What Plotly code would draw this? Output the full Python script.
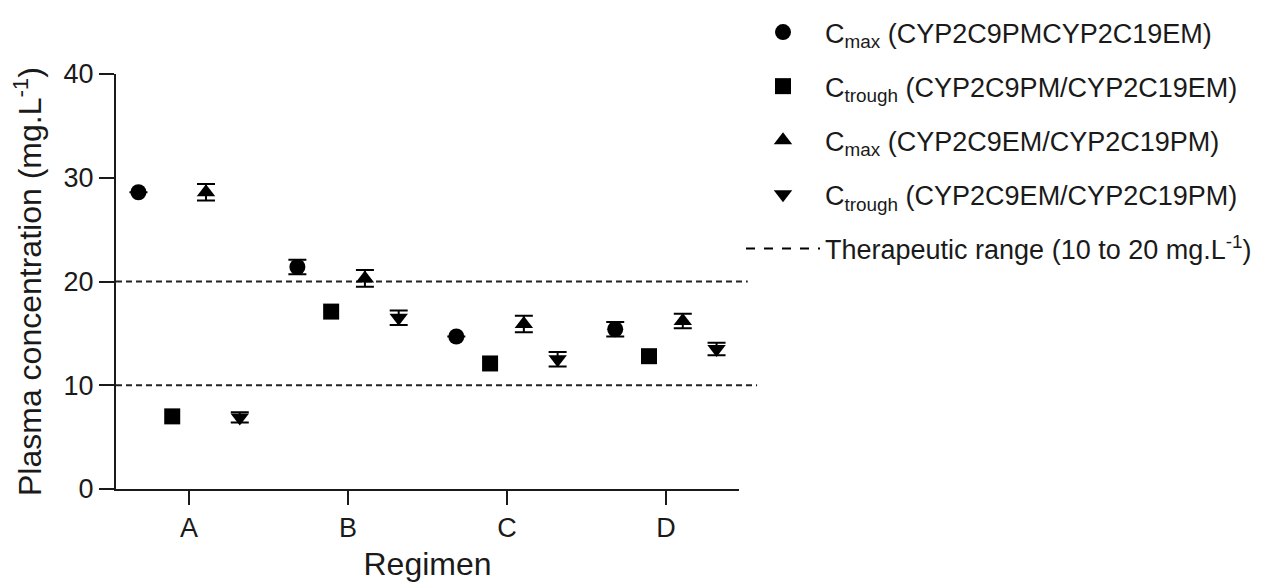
import plotly.graph_objects as go

regimens = ["A", "B", "C", "D"]

cmax_pm_em = [28.6, 21.4, 14.7, 15.4]
cmax_pm_em_err = [None, 0.7, None, 0.7]
ctrough_pm_em = [7.0, 17.1, 12.1, 12.8]
ctrough_pm_em_err = [None, None, None, None]
cmax_em_pm = [28.6, 20.3, 15.9, 16.2]
cmax_em_pm_err = [0.8, 0.8, 0.8, 0.7]
ctrough_em_pm = [6.9, 16.5, 12.5, 13.5]
ctrough_em_pm_err = [0.5, 0.7, 0.7, 0.6]

therapeutic_low = 10
therapeutic_high = 20

FONT = "Liberation Sans, Arial, sans-serif"
FS = 27
# page body has an 8px default margin, so the figure is sized to fit the window
W, H = 1263, 574

series = [
    ("C<sub>max</sub> (CYP2C9PMCYP2C19EM)", cmax_pm_em, cmax_pm_em_err, "circle"),
    ("C<sub>trough</sub> (CYP2C9PM/CYP2C19EM)", ctrough_pm_em, ctrough_pm_em_err, "square"),
    ("C<sub>max</sub> (CYP2C9EM/CYP2C19PM)", cmax_em_pm, cmax_em_pm_err, "triangle-up"),
    ("C<sub>trough</sub> (CYP2C9EM/CYP2C19PM)", ctrough_em_pm, ctrough_em_pm_err, "triangle-down"),
]

fig = go.Figure()
for i, (name, vals, errs, sym) in enumerate(series):
    has_err = any(e is not None for e in errs)
    fig.add_trace(go.Scatter(
        x=regimens, y=vals, name=name, mode="markers",
        offsetgroup=str(i), legendgroup=str(i),
        marker=dict(symbol=sym, size=16, color="black"),
        error_y=dict(type="data", array=errs, visible=has_err, color="black",
                     thickness=2, width=9),
        cliponaxis=False,
    ))

fig.add_trace(go.Scatter(
    x=[None], y=[None], mode="lines", legendgroup="5",
    name="Therapeutic range (10 to 20 mg.L<sup>-1</sup>)",
    line=dict(color="black", width=2, dash="dash"),
))

for val, x1 in [(therapeutic_high, 1.014), (therapeutic_low, 1.029)]:
    fig.add_shape(type="line", xref="paper", yref="y", x0=0, x1=x1, y0=val, y1=val,
                  line=dict(color="#222", width=2, dash="6px,4px"), layer="below")

fig.update_layout(
    width=W, height=H,
    margin=dict(l=108, r=532, t=66, b=93, autoexpand=False),
    plot_bgcolor="white", paper_bgcolor="white",
    font=dict(family=FONT, size=FS, color="#1a1a1a"),
    scattermode="group", scattergap=0.15,
    showlegend=True,
    legend=dict(xref="container", yref="container",
                x=733 / W, xanchor="left", y=1.0, yanchor="top",
                font=dict(size=FS, family=FONT, color="#1a1a1a"),
                tracegroupgap=16, itemwidth=74, bgcolor="rgba(0,0,0,0)"),
    xaxis=dict(
        type="category", range=[-0.46, 3.46], automargin=False,
        showline=True, linecolor="#1a1a1a", linewidth=2,
        ticks="outside", ticklen=14, tickwidth=2, tickcolor="#1a1a1a",
        showgrid=False, zeroline=False,
        title=dict(text="Regimen", standoff=18),
    ),
    yaxis=dict(
        range=[0, 40], tickvals=[0, 10, 20, 30, 40], automargin=False,
        showline=True, linecolor="#1a1a1a", linewidth=2,
        ticks="outside", ticklen=15, tickwidth=2, tickcolor="#1a1a1a",
        showgrid=False, zeroline=False,
        title=dict(text="Plasma concentration (mg.L<sup>-1</sup>)", standoff=13),
    ),
)

fig.write_html("out.html")
